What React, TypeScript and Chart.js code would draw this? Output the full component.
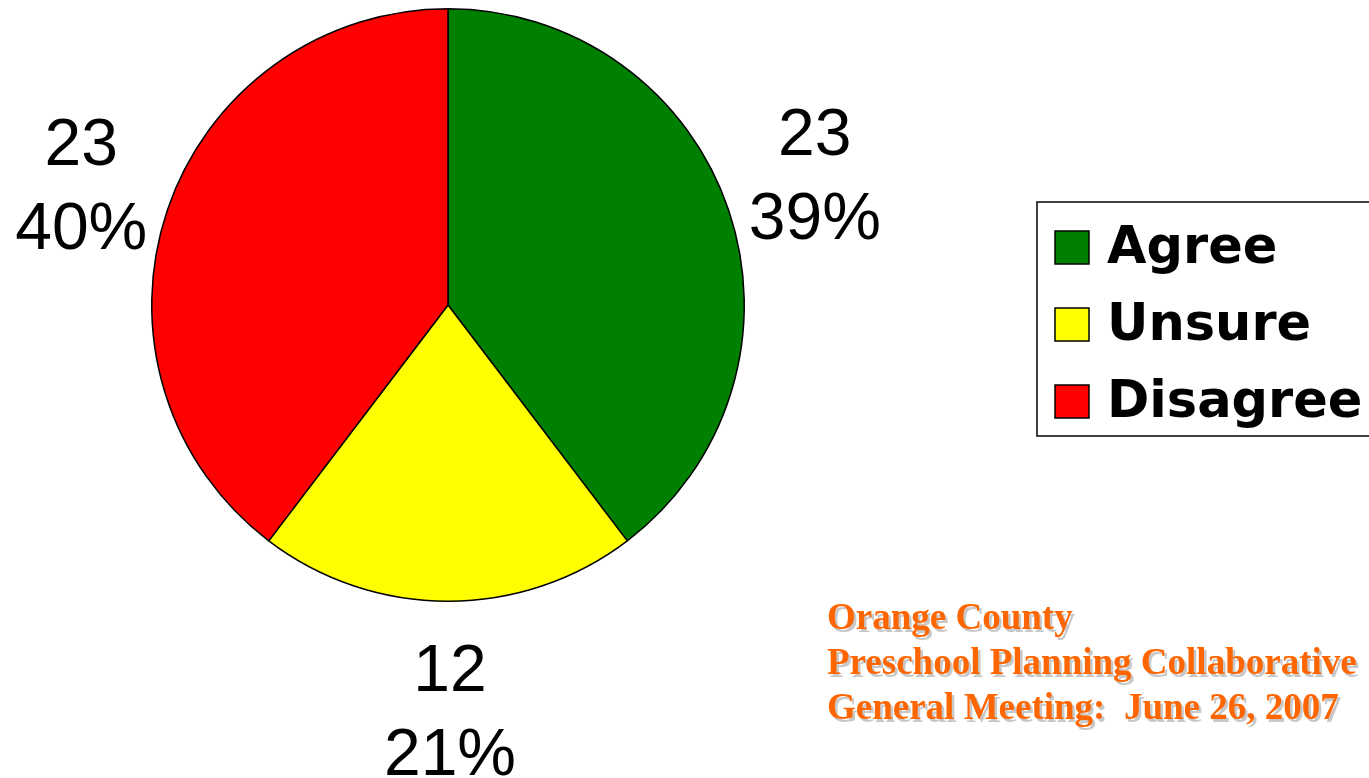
import React, { useEffect, useRef } from "react";
import { Chart, registerables } from "chart.js";

Chart.register(...registerables);

const categories = ["Agree", "Unsure", "Disagree"];
const counts = [23, 12, 23];
const percentLabels = ["39%", "21%", "40%"];
const sliceColors = ["#008000", "#FFFF00", "#FF0000"];
const footerLines = [
  "Orange County",
  "Preschool Planning Collaborative",
  "General Meeting:  June 26, 2007",
];

const labelShiftX = [-4, 2, 4];
const labelShiftY = [-25, -5, -15];

const overlayPlugin = {
  id: "overlay",
  afterDraw(chart: any) {
    const ctx = chart.ctx as CanvasRenderingContext2D;
    const meta = chart.getDatasetMeta(0);
    ctx.save();
    ctx.fillStyle = "#000";
    ctx.font = '66px "Liberation Sans", Arial, sans-serif';
    ctx.textAlign = "center";
    ctx.textBaseline = "alphabetic";
    meta.data.forEach((arc: any, i: number) => {
      const mid = (arc.startAngle + arc.endAngle) / 2;
      const r = arc.outerRadius;
      const lx = arc.x + Math.cos(mid) * (r + 95) + labelShiftX[i];
      const ly = arc.y + Math.sin(mid) * (r + 95);
      const top = ly + labelShiftY[i];
      ctx.fillText(String(counts[i]), lx, top);
      ctx.fillText(percentLabels[i], lx, top + 84);
    });

    // legend box
    const bx = 1037, by = 202, bw = 340, bh = 234;
    ctx.lineWidth = 1.5;
    ctx.strokeStyle = "#000";
    ctx.fillStyle = "#fff";
    ctx.fillRect(bx, by, bw, bh);
    ctx.strokeRect(bx, by, bw, bh);
    ctx.textAlign = "left";
    ctx.font = 'bold 51px "DejaVu Sans", sans-serif';
    categories.forEach((c, i) => {
      const y = 231 + i * 77;
      ctx.fillStyle = sliceColors[i];
      ctx.fillRect(1055, y, 34, 33);
      ctx.lineWidth = 1.5;
      ctx.strokeStyle = "#000";
      ctx.strokeRect(1055, y, 34, 33);
      ctx.fillStyle = "#000";
      ctx.fillText(c, 1107, 263 + i * 77);
    });

    // footer
    ctx.font = 'bold 37px "Liberation Serif", "Times New Roman", serif';
    footerLines.forEach((t, i) => {
      const y = 629 + i * 45;
      ctx.fillStyle = "#c8c8c8";
      ctx.fillText(t, 829.5, y + 2.5);
      ctx.fillStyle = "#FF6600";
      ctx.fillText(t, 827, y);
    });
    ctx.restore();
  },
};

export default function App() {
  const ref = useRef<HTMLCanvasElement | null>(null);
  useEffect(() => {
    if (!ref.current) return;
    const chart = new Chart(ref.current, {
      type: "pie",
      data: {
        labels: categories,
        datasets: [
          {
            data: counts,
            backgroundColor: sliceColors,
            borderColor: "#000",
            borderWidth: 1.5,
          },
        ],
      },
      options: {
        animation: false,
        responsive: false,
        layout: { padding: { left: 151, top: 8, right: 624, bottom: 176 } },
        plugins: { legend: { display: false }, tooltip: { enabled: false } },
      },
      plugins: [overlayPlugin],
    });
    return () => chart.destroy();
  }, []);
  return (
    <div style={{ position: "fixed", left: 0, top: 0, width: 1369, height: 778, background: "#fff" }}>
      <canvas ref={ref} width={1369} height={778} style={{ display: "block" }} />
    </div>
  );
}
